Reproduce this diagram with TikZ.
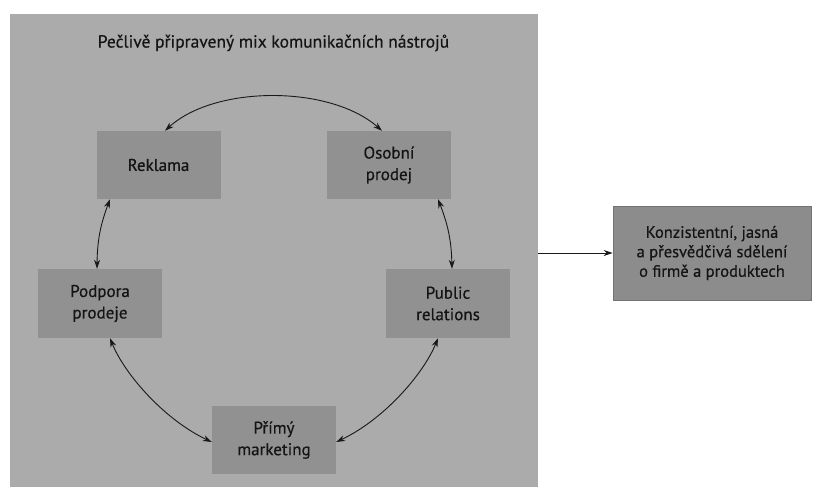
\documentclass[tikz,border=0pt]{standalone}
\usepackage{fontspec}
\setmainfont{PT Sans}
\newfontfamily\txtfont[FakeBold=0.5]{PT Sans}
\usetikzlibrary{arrows.meta}
\definecolor{panelgray}{RGB}{171,171,171}
\definecolor{boxgray}{RGB}{145,145,145}
\definecolor{outgray}{RGB}{140,140,140}
\definecolor{outedge}{RGB}{115,115,115}
\definecolor{txt}{RGB}{20,20,20}
\tikzset{
  panelbox/.style={fill=panelgray, draw=none, minimum width=528.5pt, minimum height=473pt, inner sep=0pt},
  toolbox/.style={fill=boxgray, draw=none, minimum width=124pt, minimum height=68pt, inner sep=0pt,
    align=center, text=txt, font=\txtfont\fontsize{17}{21.5}\selectfont},
  outbox/.style={fill=outgray, draw=outedge, line width=0.6pt, minimum width=198pt, minimum height=94pt, inner sep=0pt,
    align=center, text=txt, font=\txtfont\fontsize{16.5}{19.5}\selectfont},
  link/.style={{Stealth[length=9pt,width=6pt]}-{Stealth[length=9pt,width=6pt]}, line width=0.9pt, black!90},
  oneway/.style={-{Stealth[length=9pt,width=6pt]}, line width=0.9pt, black!90}
}
\begin{document}
\begin{tikzpicture}[x=1pt,y=-1pt]
\useasboundingbox[fill=white] (0,0) rectangle (817,487);
\node[panelbox] (panel) at (273.75,250.5) {};
\node[text=txt, font=\txtfont\fontsize{17.5}{20}\selectfont] (title) at (273.5,43) {Pečlivě připravený mix komunikačních nástrojů};
\node[toolbox] (reklama) at (158.5,165) {Reklama};
\node[toolbox] (osobni) at (389,165) {Osobní\\prodej};
\node[toolbox, minimum height=69pt] (podpora) at (100,303.5) {Podpora\\prodeje};
\node[toolbox, minimum height=69pt] (public) at (448,303.5) {Public\\relations};
\node[toolbox] (primy) at (274,440) {Přímý\\marketing};
\node[outbox] (out) at (712,253) {Konzistentní, jasná\\a přesvědčivá sdělení\\o firmě a produktech};

\draw[link] ([xshift=6.5pt]reklama.north) .. controls (215,85) and (330,85) .. ([xshift=-7pt]osobni.north);
\draw[link] ([xshift=-48.5pt]reklama.south) to[bend right=10] ([xshift=-3pt]podpora.north);
\draw[link] ([xshift=49pt]osobni.south) to[bend left=10] ([xshift=4pt]public.north);
\draw[link] ([xshift=10pt]podpora.south) .. controls (125,375) and (165,420) .. ([yshift=-2pt]primy.west);
\draw[link] ([xshift=-10pt]public.south) .. controls (423,375) and (383,420) .. ([yshift=-2pt]primy.east);
\draw[oneway] (panel.east |- out.west) -- (out.west);
\end{tikzpicture}
\end{document}
